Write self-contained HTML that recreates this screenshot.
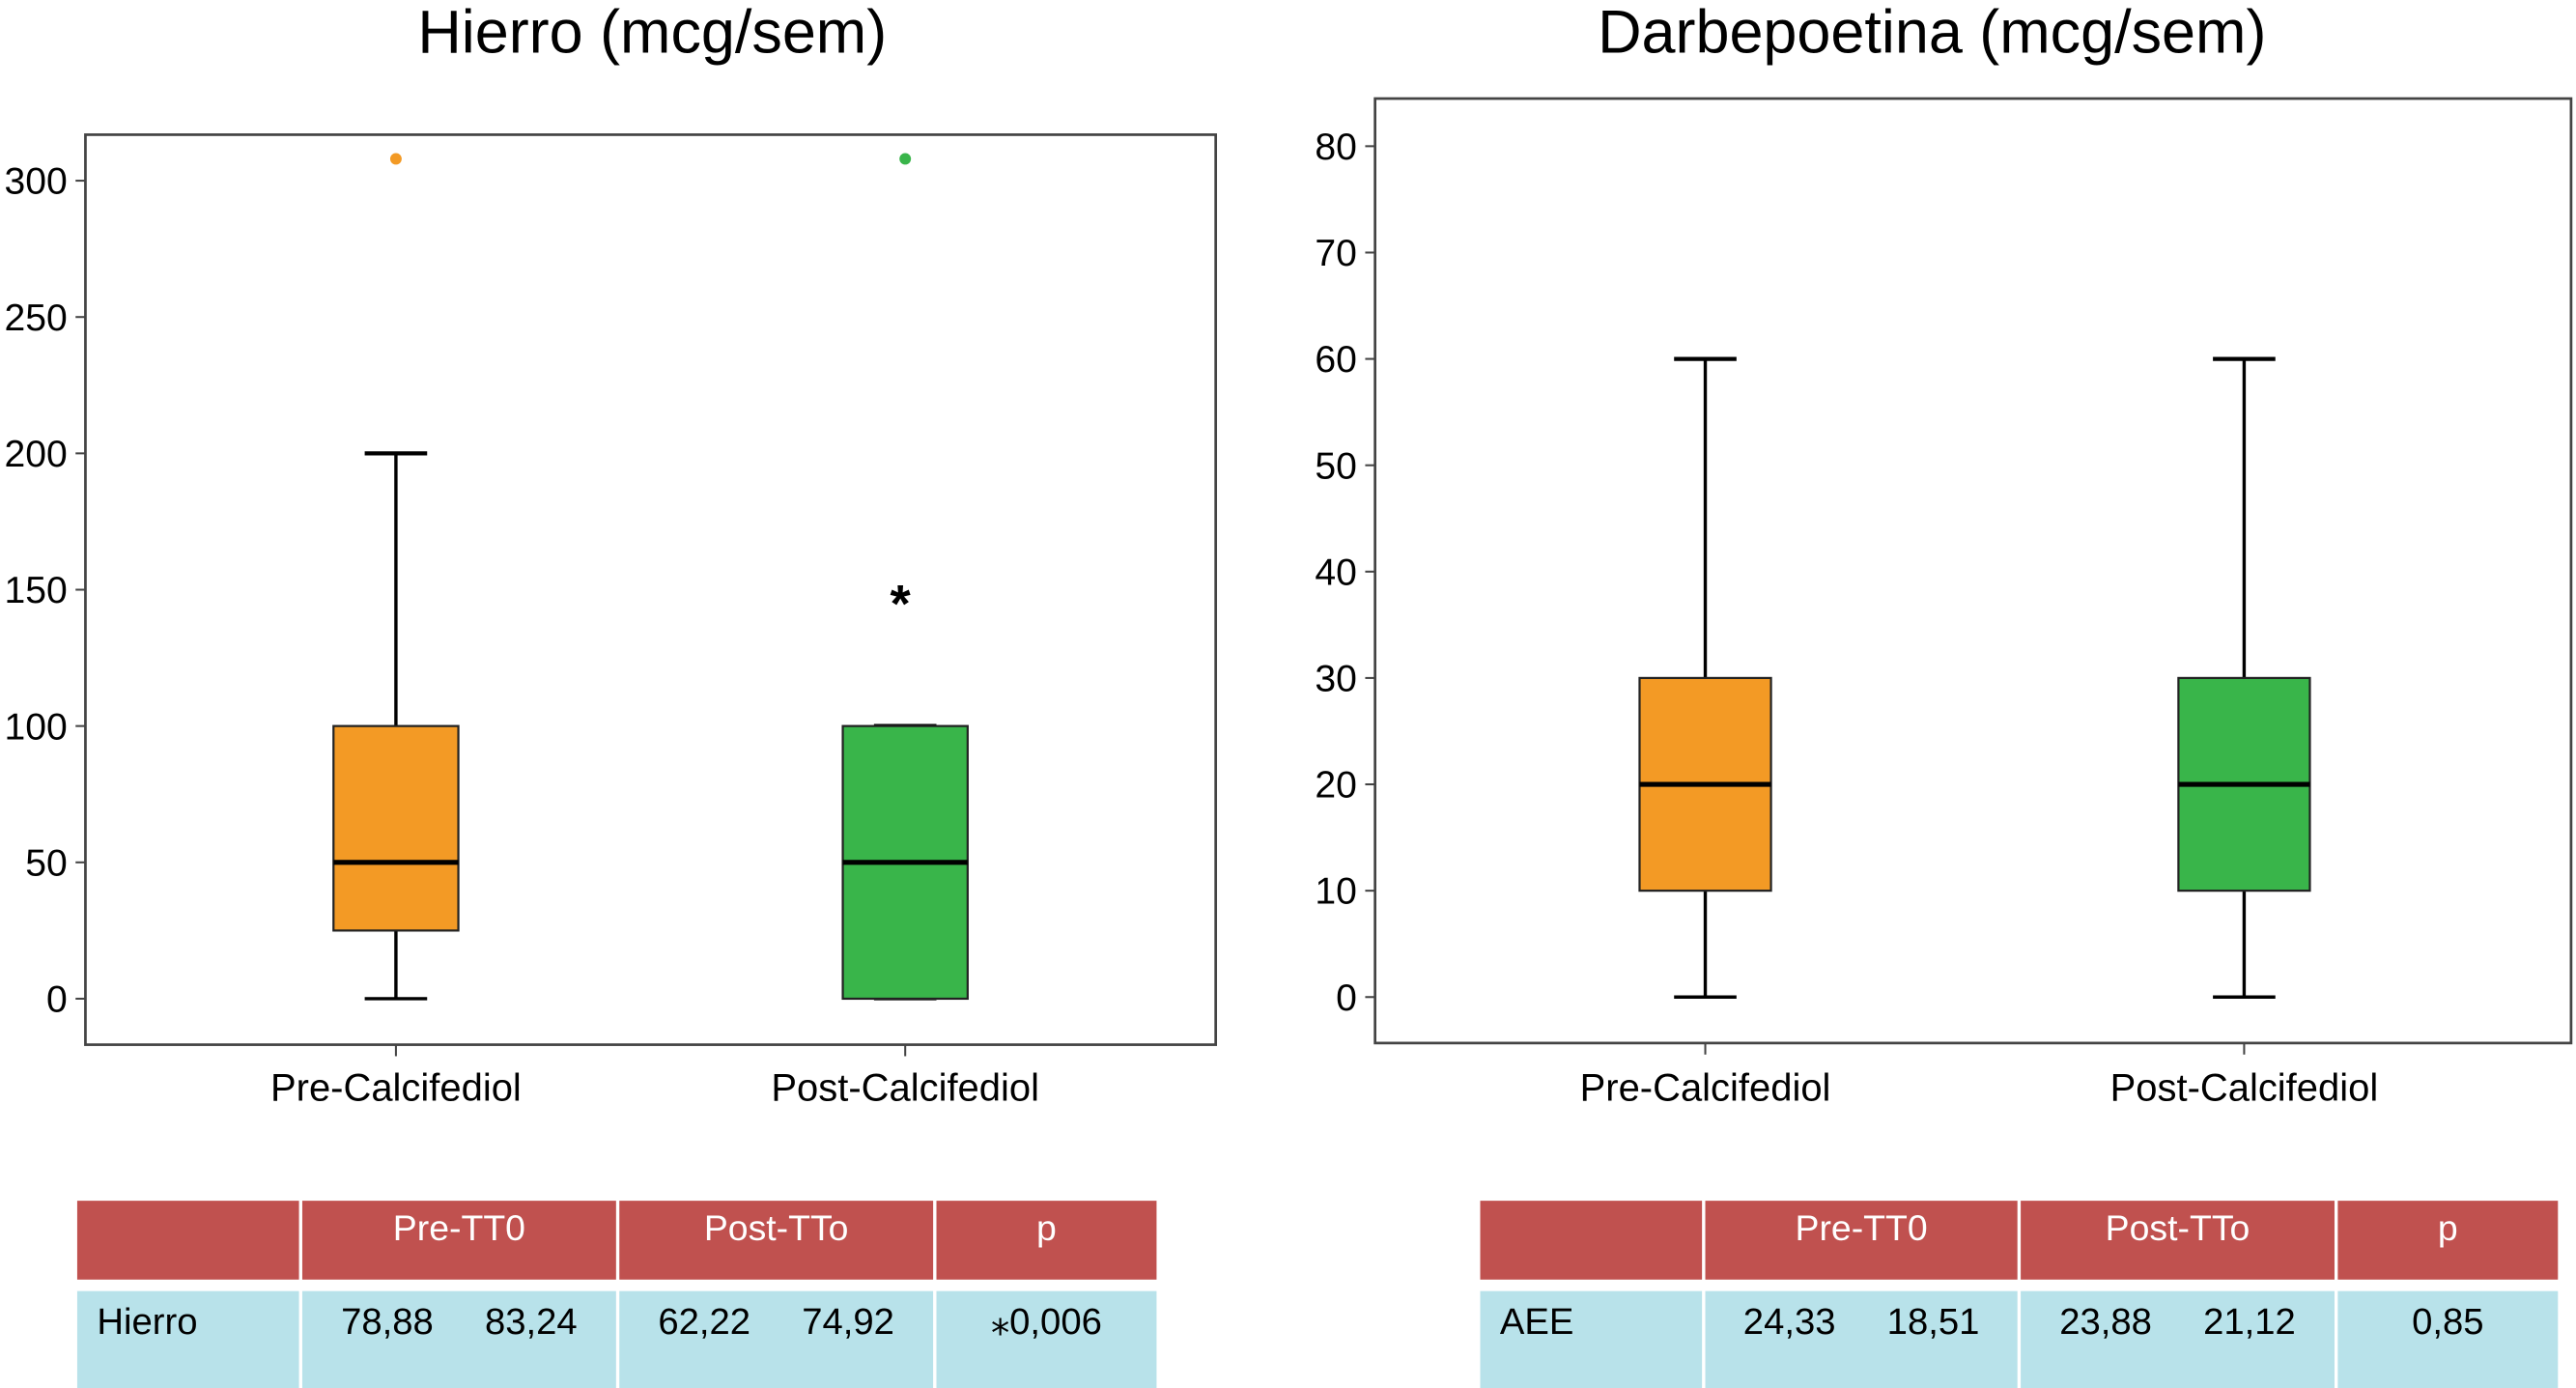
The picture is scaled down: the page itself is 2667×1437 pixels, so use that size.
<!DOCTYPE html>
<html><head><meta charset="utf-8"><style>
html,body{margin:0;padding:0;background:#fff;}
svg{display:block;font-family:"Liberation Sans",sans-serif;}
</style></head><body>
<svg id="c" width="2667" height="1437" viewBox="0 0 1568 845" preserveAspectRatio="none"></svg>
<script>
const categories = ["Pre-Calcifediol","Post-Calcifediol"];
const hierroStats = [[0,25,50,100,200],[0,0,50,100,100]];
const hierroOutliers = [[308],[308]];
const hierroExtremes = [[],[148]];
const hierroTicks = [0,50,100,150,200,250,300];
const darbeStats = [[0,10,20,30,60],[0,10,20,30,60]];
const darbeTicks = [0,10,20,30,40,50,60,70,80];
const colors = ["#f39a25","#39b54a"];
const tableHeaders = ["","Pre-TT0","Post-TTo","p"];
const hierroRow = ["Hierro","78,88     83,24","62,22     74,92","⁎0,006"];
const darbeRow = ["AEE","24,33     18,51","23,88     21,12","0,85"];

const NS="http://www.w3.org/2000/svg";
const svg=document.getElementById('c');
function mk(tag,attrs,parent){const e=document.createElementNS(NS,tag);for(const k in attrs)e.setAttribute(k,attrs[k]);(parent||svg).appendChild(e);return e;}

function chart(name,title,titleX,frame,y0px,yPerUnit,ticks,stats,outliers,extremes,centers,halfW){
  const g=mk('g',{});
  
  
  const y=v=>y0px-v*yPerUnit;
  const t=mk('text',{x:titleX,y:32,'font-size':37,'text-anchor':'middle',fill:'#000'},g);t.textContent=title;
  
  
  const fr=mk('rect',{x:frame[0],y:frame[1],width:frame[2]-frame[0],height:frame[3]-frame[1],fill:'none',stroke:'#444','stroke-width':1.6},g);
  
  
  ticks.forEach(v=>{
    mk('line',{x1:frame[0]-6,x2:frame[0],y1:y(v),y2:y(v),stroke:'#444','stroke-width':1.2},g);
    const tl=mk('text',{x:frame[0]-11,y:y(v)+8,'font-size':23,'text-anchor':'end',fill:'#000'},g);tl.textContent=v;
    
    
  });
  categories.forEach((c,i)=>{
    const cx=centers[i],s=stats[i];
    mk('line',{x1:cx,x2:cx,y1:frame[3],y2:frame[3]+7,stroke:'#444','stroke-width':1.2},g);
    const xl=mk('text',{x:cx,y:670,'font-size':23.5,'text-anchor':'middle',fill:'#000'},g);xl.textContent=c;
    
    
    mk('line',{x1:cx,x2:cx,y1:y(s[0]),y2:y(s[4]),stroke:'#000','stroke-width':2},g);
    mk('line',{x1:cx-19,x2:cx+19,y1:y(s[0]),y2:y(s[0]),stroke:'#000','stroke-width':2},g);
    mk('line',{x1:cx-19,x2:cx+19,y1:y(s[4]),y2:y(s[4]),stroke:'#000','stroke-width':2.5},g);
    const b=mk('rect',{x:cx-halfW,y:y(s[3]),width:2*halfW,height:y(s[1])-y(s[3]),fill:colors[i],stroke:'#222','stroke-width':1.3},g);
    
    
    mk('line',{x1:cx-halfW,x2:cx+halfW,y1:y(s[2]),y2:y(s[2]),stroke:'#000','stroke-width':3},g);
    outliers[i].forEach(v=>{const o=mk('circle',{cx:cx,cy:y(v),r:3.5,fill:colors[i]},g);
      
      });
    extremes[i].forEach(v=>{const o=mk('text',{x:cx-3,y:y(v)+16,'font-size':32,'text-anchor':'middle','font-weight':'bold',fill:'#000'},g);o.textContent='*';
      
      });
  });
}
chart('hierro-chart','Hierro (mcg/sem)',397,[52,82,740,636],608,83/50,hierroTicks,hierroStats,hierroOutliers,hierroExtremes,[241,551],38);
chart('darbepoetina-chart','Darbepoetina (mcg/sem)',1176,[837,60,1565,635],607,6.475,darbeTicks,darbeStats,[[],[]],[[],[]],[1038,1366],40);

function table(name,x0,cols,row){
  const g=mk('g',{});
  
  
  const bounds=[x0].concat(cols);
  for(let i=0;i<4;i++){
    const a=bounds[i]+(i?1:0),w=bounds[i+1]-a-1;
    const h=mk('rect',{x:a,y:731,width:w,height:48,fill:'#c0514f'},g);
    
    
    const bc=mk('rect',{x:a,y:786,width:w,height:59,fill:'#b8e2ea'},g);
    
    
    if(tableHeaders[i]){const t=mk('text',{x:(bounds[i]+bounds[i+1])/2,y:755,'font-size':22,'text-anchor':'middle',fill:'#fff'},g);t.textContent=tableHeaders[i];
      
      }
    const t2=mk('text',{x:i?(bounds[i]+bounds[i+1])/2:a+12,y:812,'font-size':22.5,'text-anchor':i?'middle':'start',fill:'#000'},g);
    t2.style.whiteSpace='pre';t2.textContent=row[i];
    
    
  }
}
table('hierro-table',47,[183,376,569,705],hierroRow);
table('darbepoetina-table',901,[1037,1229,1422,1558],darbeRow);
</script>
</body></html>
